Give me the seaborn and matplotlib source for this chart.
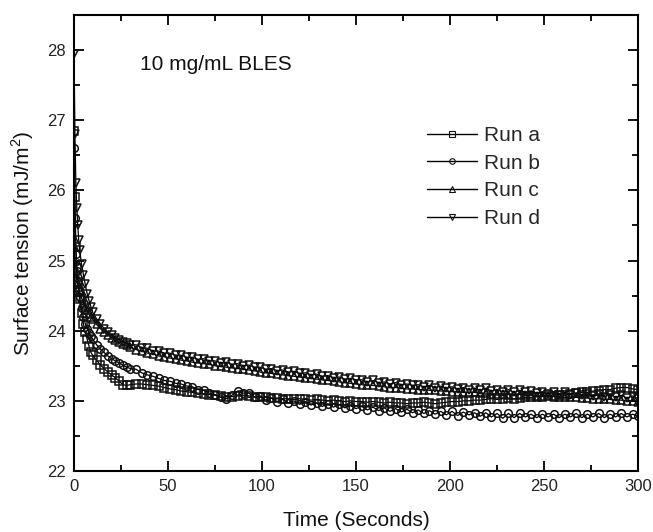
import matplotlib
matplotlib.use("Agg")
import matplotlib.pyplot as plt
import seaborn as sns
import pandas as pd
from matplotlib.ticker import MultipleLocator

# ---------------- data ----------------
time_s = [0, 0.5, 1, 1.5, 2, 2.5, 3, 4, 5, 6, 7, 8, 9, 10, 12, 14, 16, 18, 20, 22, 24, 26, 28, 30,
          33, 36, 39, 42, 45, 48, 51, 54, 57, 60, 63, 66, 69, 72, 75, 78, 81, 84, 87, 90,
          93, 96, 99, 102, 105, 108, 111, 114, 117, 120, 123, 126, 129, 132, 135, 138, 141, 144, 147, 150,
          153, 156, 159, 162, 165, 168, 171, 174, 177, 180, 183, 186, 189, 192, 195, 198, 201, 204, 207, 210,
          213, 216, 219, 222, 225, 228, 231, 234, 237, 240, 243, 246, 249, 252, 255, 258, 261, 264, 267, 270,
          273, 276, 279, 282, 285, 288, 291, 294, 297, 300]

run_a = [26.85, 25.90, 25.20, 24.90, 24.70, 24.55, 24.45, 24.25, 24.10, 23.98, 23.88, 23.78, 23.69, 23.65,
         23.58, 23.51, 23.46, 23.41, 23.37, 23.33, 23.28, 23.23, 23.22, 23.23,
         23.24, 23.24, 23.23, 23.22, 23.21, 23.19, 23.17, 23.16, 23.14, 23.13,
         23.12, 23.11, 23.10, 23.09, 23.08, 23.07, 23.06, 23.06, 23.07, 23.08,
         23.07, 23.06, 23.05, 23.05, 23.04, 23.04, 23.03, 23.03, 23.02, 23.03,
         23.02, 23.01, 23.02, 23.01, 23.00, 23.01, 23.00, 22.99, 23.00, 22.99,
         22.99, 22.98, 22.99, 22.98, 22.97, 22.98, 22.97, 22.97, 22.96, 22.97,
         22.97, 22.98, 22.97, 22.96, 22.97, 22.98, 22.99, 22.99, 23.00, 23.00,
         23.01, 23.01, 23.02, 23.03, 23.02, 23.03, 23.04, 23.03, 23.04, 23.05,
         23.05, 23.06, 23.06, 23.08, 23.07, 23.09, 23.08, 23.10, 23.11, 23.12,
         23.12, 23.14, 23.14, 23.16, 23.16, 23.18, 23.19, 23.19, 23.17, 23.16]

run_b = [26.60, 25.60, 25.10, 24.85, 24.70, 24.58, 24.48, 24.32, 24.20, 24.10, 24.03, 23.97, 23.92, 23.88,
         23.80, 23.74, 23.69, 23.64, 23.60, 23.57, 23.54, 23.51, 23.48, 23.46,
         23.45, 23.40, 23.37, 23.35, 23.32, 23.29, 23.28, 23.25, 23.24, 23.21,
         23.20, 23.16, 23.15, 23.11, 23.09, 23.05, 23.03, 23.08, 23.14, 23.11,
         23.11, 23.05, 23.07, 23.01, 23.04, 22.99, 23.02, 22.97, 23.00, 22.95,
         22.99, 22.94, 22.97, 22.92, 22.96, 22.91, 22.95, 22.90, 22.93, 22.89,
         22.92, 22.87, 22.91, 22.86, 22.90, 22.85, 22.89, 22.84, 22.88, 22.83,
         22.87, 22.82, 22.86, 22.81, 22.85, 22.80, 22.85, 22.79, 22.84, 22.80,
         22.83, 22.78, 22.83, 22.77, 22.82, 22.75, 22.82, 22.76, 22.82, 22.77,
         22.81, 22.76, 22.81, 22.77, 22.81, 22.76, 22.81, 22.77, 22.82, 22.76,
         22.81, 22.77, 22.82, 22.76, 22.81, 22.77, 22.82, 22.77, 22.81, 22.78]

run_c = [25.20, 25.00, 24.86, 24.76, 24.68, 24.62, 24.56, 24.47, 24.40, 24.34, 24.29, 24.24, 24.20, 24.16,
         24.09, 24.03, 23.98, 23.94, 23.90, 23.87, 23.84, 23.81, 23.79, 23.77,
         23.73, 23.71, 23.68, 23.67, 23.64, 23.63, 23.61, 23.60, 23.58, 23.57,
         23.55, 23.54, 23.53, 23.52, 23.50, 23.49, 23.48, 23.47, 23.46, 23.45,
         23.44, 23.43, 23.41, 23.40, 23.39, 23.38, 23.37, 23.36, 23.35, 23.34,
         23.33, 23.32, 23.31, 23.30, 23.29, 23.28, 23.27, 23.26, 23.25, 23.24,
         23.23, 23.22, 23.22, 23.21, 23.20, 23.19, 23.19, 23.18, 23.17, 23.17,
         23.16, 23.16, 23.15, 23.15, 23.14, 23.14, 23.13, 23.13, 23.12, 23.12,
         23.12, 23.11, 23.11, 23.10, 23.10, 23.10, 23.09, 23.09, 23.09, 23.08,
         23.08, 23.07, 23.07, 23.07, 23.06, 23.06, 23.05, 23.05, 23.05, 23.04,
         23.04, 23.03, 23.03, 23.02, 23.02, 23.01, 23.01, 23.00, 23.00, 22.99]

run_d = [27.95, 26.80, 26.10, 25.75, 25.50, 25.30, 25.15, 24.95, 24.80, 24.66, 24.53, 24.43, 24.34, 24.26,
         24.17, 24.10, 24.03, 23.98, 23.94, 23.90, 23.87, 23.84, 23.82, 23.79,
         23.80, 23.76, 23.75, 23.71, 23.71, 23.68, 23.68, 23.65, 23.65, 23.62,
         23.62, 23.59, 23.60, 23.57, 23.57, 23.54, 23.55, 23.52, 23.53, 23.50,
         23.51, 23.48, 23.48, 23.45, 23.46, 23.43, 23.44, 23.41, 23.42, 23.39,
         23.40, 23.37, 23.38, 23.35, 23.36, 23.33, 23.34, 23.31, 23.32, 23.30,
         23.30, 23.27, 23.29, 23.26, 23.27, 23.24, 23.26, 23.23, 23.24, 23.22,
         23.23, 23.20, 23.22, 23.19, 23.21, 23.18, 23.20, 23.17, 23.19, 23.16,
         23.18, 23.15, 23.18, 23.14, 23.16, 23.13, 23.16, 23.12, 23.15, 23.12,
         23.14, 23.11, 23.13, 23.10, 23.13, 23.09, 23.12, 23.09, 23.11, 23.08,
         23.10, 23.07, 23.10, 23.06, 23.09, 23.05, 23.08, 23.04, 23.07, 23.03]

run_labels = ["Run a", "Run b", "Run c", "Run d"]
run_markers = ["s", "o", "^", "v"]
annotation = "10 mg/mL BLES"
x_label = "Time (Seconds)"
y_label = "Surface tension (mJ/m$^2$)"
x_ticks = [0, 50, 100, 150, 200, 250, 300]
y_ticks = [22, 23, 24, 25, 26, 27, 28]

# ---------------- style ----------------
sns.set_style("ticks")
plt.rcParams["font.family"] = ["Liberation Sans", "DejaVu Sans"]
plt.rcParams["mathtext.fontset"] = "custom"
plt.rcParams["mathtext.rm"] = "Liberation Sans"

fig = plt.figure(figsize=(6.53, 5.32), dpi=100)
ax = fig.add_axes([0.1133, 0.1147, 0.864, 0.857])

series = [run_a, run_b, run_c, run_d]
for vals, lab, mk in zip(series, run_labels, run_markers):
    df = pd.DataFrame({"t": time_s, "v": vals})
    sns.lineplot(data=df, x="t", y="v", ax=ax, color="black", lw=0.9,
                 marker=mk, markersize=5.5, markerfacecolor="none",
                 markeredgecolor="#111111", markeredgewidth=1.1,
                 label=lab, sort=False, estimator=None)

ax.set_xlim(0, 300)
ax.set_ylim(22, 28.5)
ax.set_xticks(x_ticks)
ax.set_yticks(y_ticks)
ax.xaxis.set_minor_locator(MultipleLocator(25))
ax.yaxis.set_minor_locator(MultipleLocator(0.5))
ax.tick_params(which="both", direction="in", top=True, right=True,
               colors="black", width=1.3)
ax.tick_params(which="major", length=7, labelsize=12, pad=6, labelcolor="#222222")
ax.tick_params(which="minor", length=4)
for sp in ax.spines.values():
    sp.set_linewidth(1.5)
    sp.set_color("black")

ax.set_xlabel(x_label, fontsize=15, labelpad=12, color="#111111")
ax.set_ylabel(y_label, fontsize=15, labelpad=8, color="#111111")

ax.text(35, 27.8, annotation, fontsize=15, va="center", ha="left", color="#111111")

leg = ax.legend(loc="upper left", bbox_to_anchor=(0.611, 0.775), frameon=False,
                fontsize=15, handlelength=2.4, handletextpad=0.35,
                labelspacing=0.42, numpoints=1, borderaxespad=0)
for h in leg.legend_handles:
    h.set_markersize(4)
    h.set_markeredgewidth(0.8)
    h.set_linewidth(1.0)

fig.savefig("out.png", dpi=100)
